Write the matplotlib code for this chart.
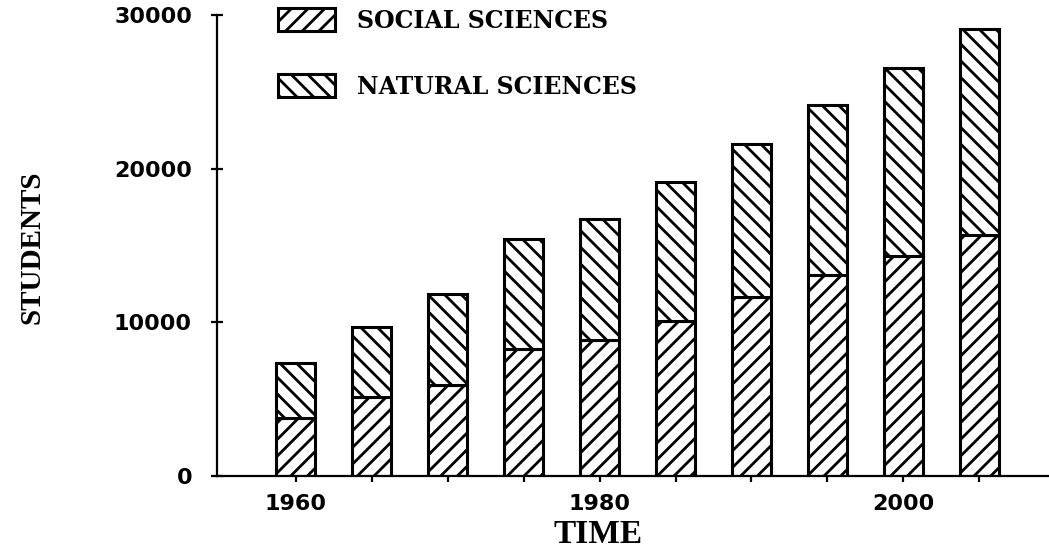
import matplotlib
matplotlib.use('Agg')
import matplotlib.pyplot as plt

# values
years = [1960, 1965, 1970, 1975, 1980, 1985, 1990, 1995, 2000, 2005]
social = [3770, 5140, 5920, 8270, 8850, 10090, 11650, 13080, 14320, 15680]
natural = [3580, 4560, 5920, 7150, 7880, 9040, 9950, 11060, 12230, 13410]
xtick_years = [1960, 1980, 2000]
ytick_vals = [0, 10000, 20000, 30000]

plt.rcParams['hatch.linewidth'] = 2.0

fig = plt.figure(figsize=(10.49, 5.48), dpi=100)
ax = fig.add_axes([217/1049, 72/548, 832/1049, 461/548])

ax.bar(years, social, width=2.57, color='white', edgecolor='black',
       linewidth=2.2, hatch='//', label='SOCIAL SCIENCES')
ax.bar(years, natural, bottom=social, width=2.57, color='white', edgecolor='black',
       linewidth=2.2, hatch='\\\\', label='NATURAL SCIENCES')

ax.set_xlim(1954.8, 2009.6)
ax.set_ylim(0, 30000)

for s in ['top', 'right']:
    ax.spines[s].set_visible(False)
for s in ['left', 'bottom']:
    ax.spines[s].set_linewidth(1.6)

tick_font = {'family': 'DejaVu Sans', 'weight': 'bold', 'size': 16}
ax.set_yticks(ytick_vals)
ax.set_yticklabels([str(v) for v in ytick_vals], fontdict=tick_font)
ax.set_xticks(years)
ax.set_xticklabels([str(y) if y in xtick_years else '' for y in years], fontdict=tick_font)
ax.tick_params(axis='y', direction='inout', length=8, width=1.6, pad=14)
ax.tick_params(axis='x', direction='out', length=4, width=1.6, pad=9)

ax.set_xlabel('TIME', family='Liberation Serif', weight='bold', size=24, va='center')
ax.xaxis.set_label_coords(0.458, -0.126)
ax.set_ylabel('STUDENTS', family='Liberation Serif', weight='bold', size=21, va='center')
ax.yaxis.set_label_coords(-0.222, 0.497)

ax.legend(loc='upper left', bbox_to_anchor=(278/1049, 1 - 8/548),
          bbox_transform=fig.transFigure, frameon=False, borderpad=0,
          borderaxespad=0, handlelength=2.4, handleheight=1.15,
          labelspacing=1.75, handletextpad=0.95,
          prop={'family': 'DejaVu Serif', 'weight': 'bold', 'size': 17})

fig.savefig('out.png', dpi=100)
